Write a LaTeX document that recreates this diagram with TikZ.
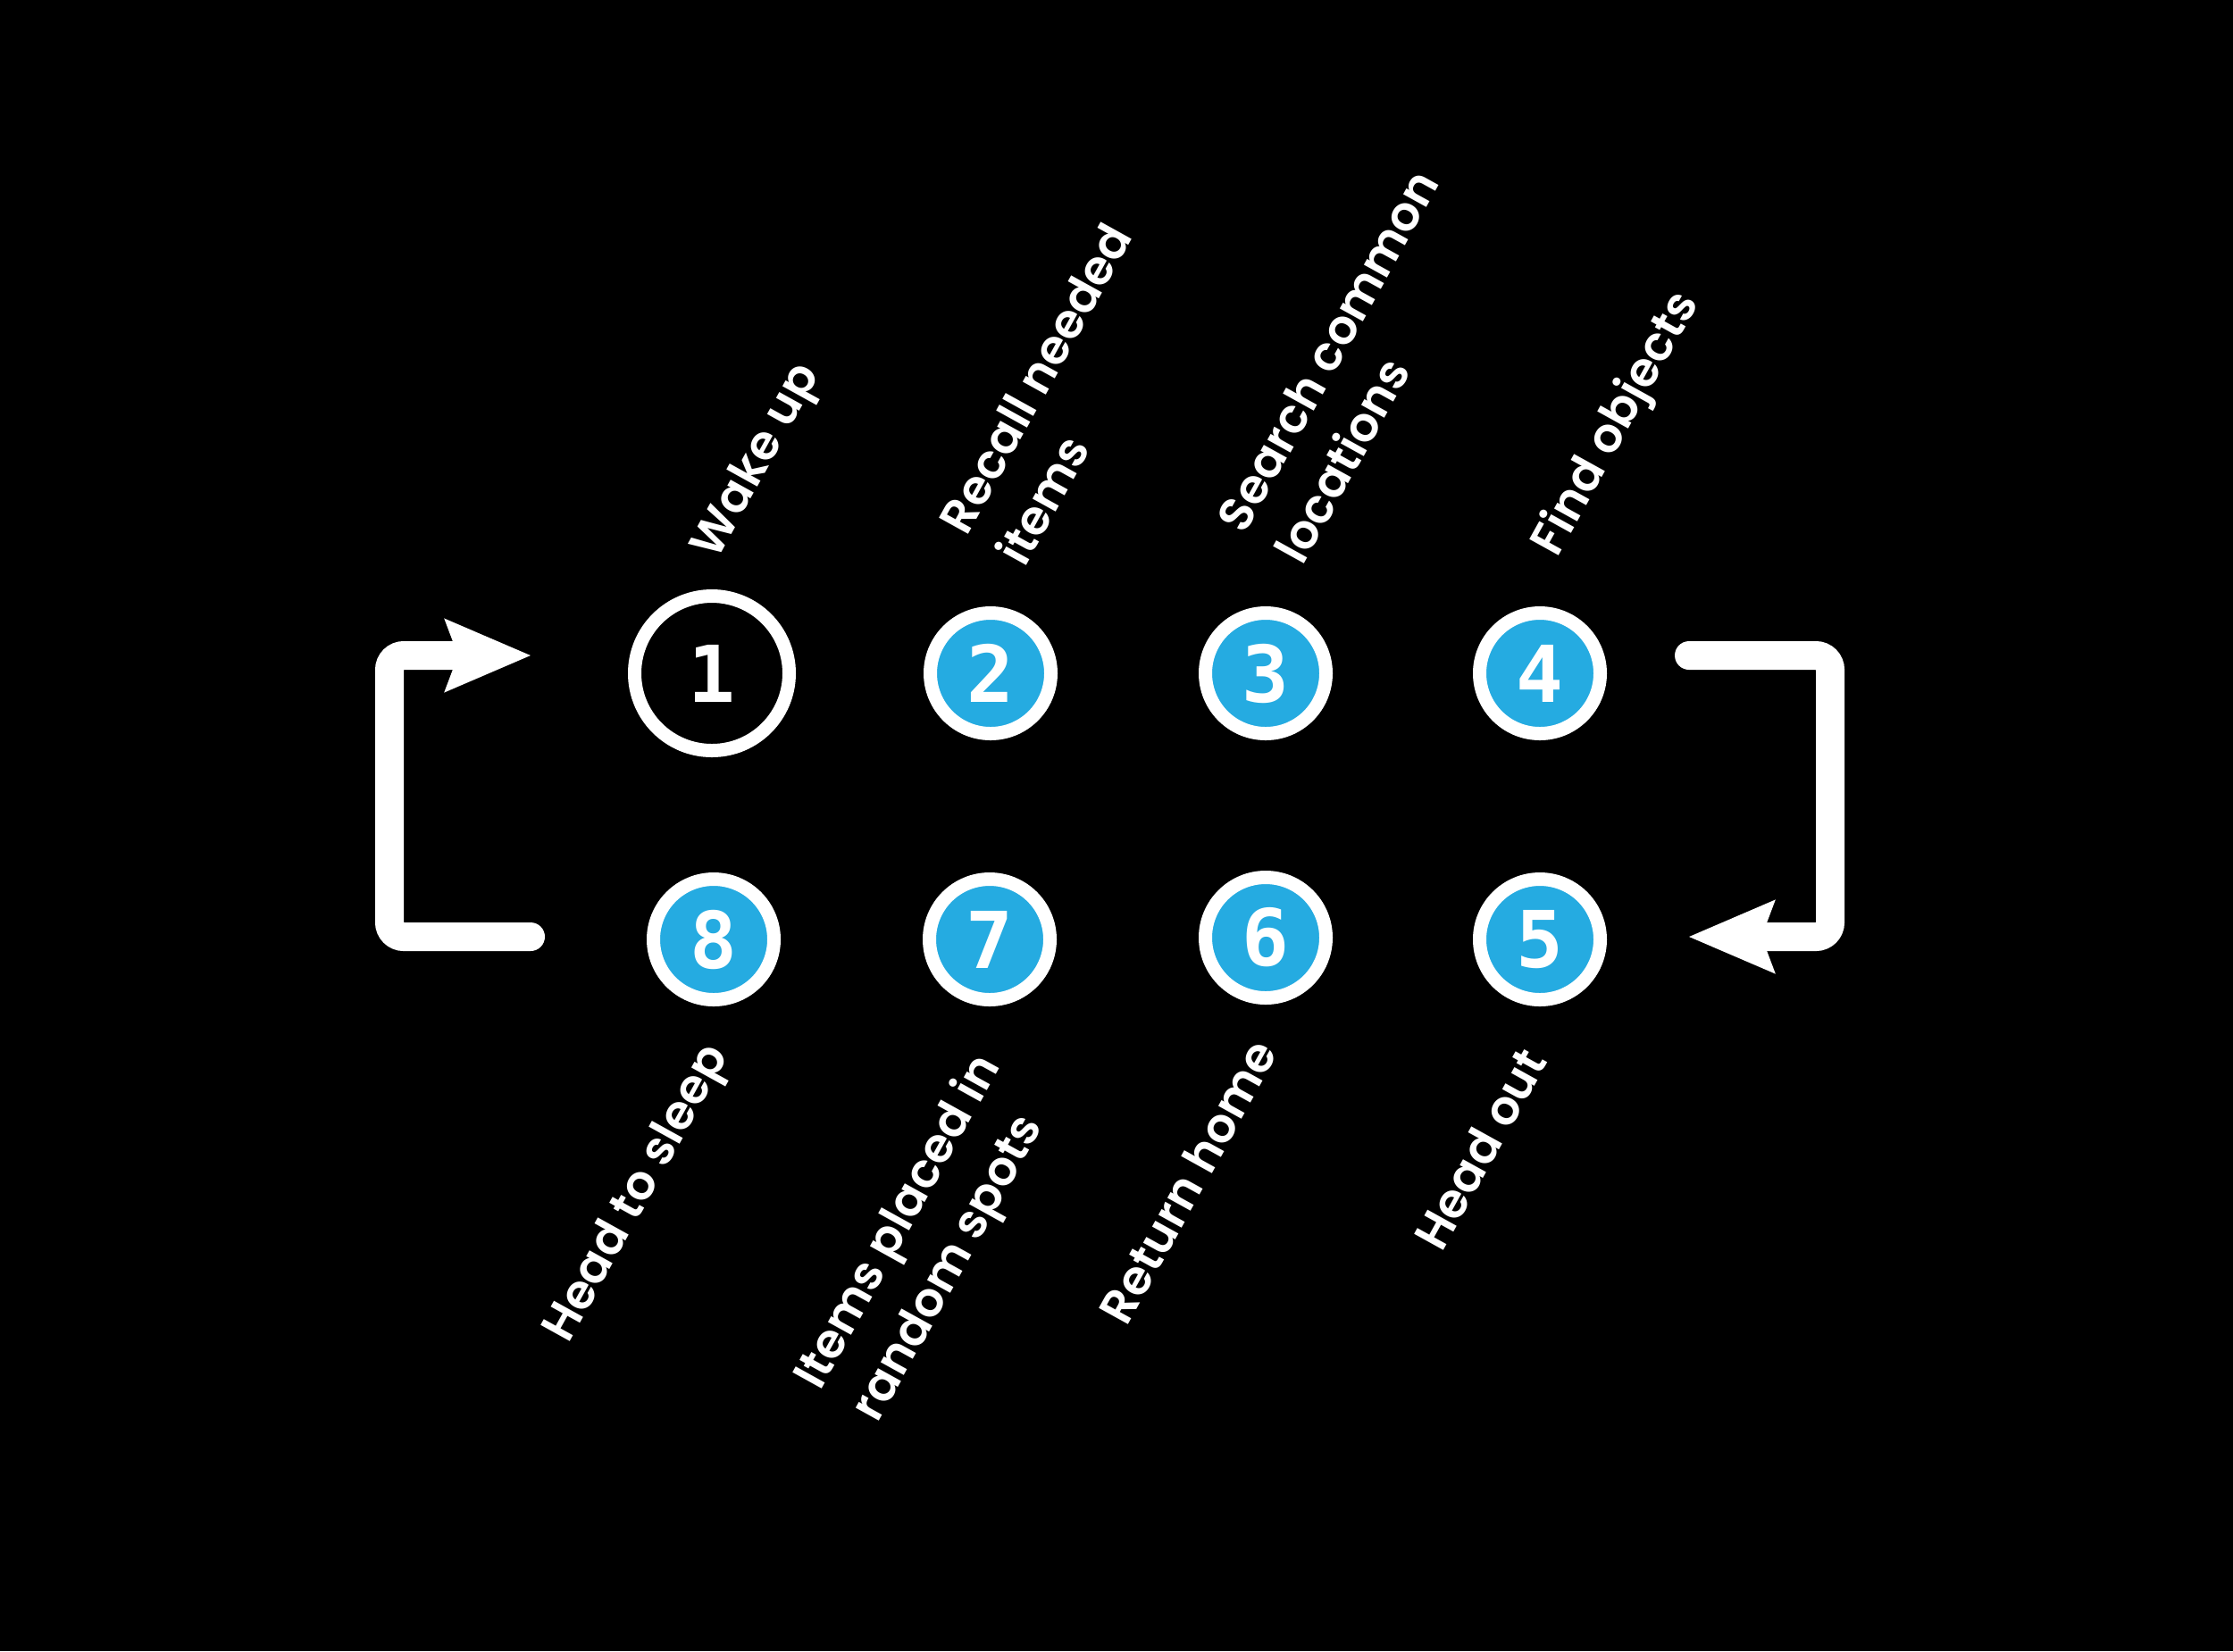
\documentclass[tikz,border=0pt]{standalone}
\usepackage{fontspec}
\setmainfont{Poppins SemiBold}
\newfontfamily\stepfont{DejaVu Sans Mono Bold}
\usepackage{tikz}
\usetikzlibrary{arrows.meta}
\usepackage{xcolor}
\definecolor{CycleBlue}{HTML}{25ABE1}

\begin{document}
\begin{tikzpicture}[
  stepdot/.style={circle, draw=white, line width=1.5mm, fill=CycleBlue, text=white,
    minimum size=1.35cm, inner sep=0pt, font=\stepfont\fontsize{25}{30}\selectfont},
  firstdot/.style={stepdot, fill=black, minimum size=1.73cm},
  lbl/.style={text=white, rotate=61, align=left, inner sep=0pt,
    font=\fontsize{15.2}{21}\selectfont},
  loopline/.style={draw=white, line width=3.2mm, line cap=round, rounded corners=1.6mm,
    -{Stealth[length=9.5mm, width=7.8mm, inset=1.3mm]}}
]
  \fill[black] (0,0) rectangle (25,-18.49);

  % steps
  \node[firstdot] (s1) at (7.97,-7.54) {1};
  \node[stepdot]  (s2) at (11.09,-7.54) {2};
  \node[stepdot]  (s3) at (14.17,-7.54) {3};
  \node[stepdot]  (s4) at (17.24,-7.54) {4};
  \node[stepdot]  (s5) at (17.24,-10.52) {5};
  \node[stepdot]  (s6) at (14.17,-10.50) {6};
  \node[stepdot]  (s7) at (11.08,-10.52) {7};
  \node[stepdot]  (s8) at (7.99,-10.52) {8};

  % labels
  \node[lbl, anchor=south west] (l1) at (8.15,-6.36) {Wake up};
  \node[lbl, anchor=south west] (l2) at (11.48,-6.38) {Recall needed\\items};
  \node[lbl, anchor=south west] (l3) at (14.59,-6.36) {Search common\\locations};
  \node[lbl, anchor=south west] (l4) at (17.56,-6.33) {Find objects};
  \node[lbl, anchor=north east] (l8) at (7.81,-11.62) {Head to sleep};
  \node[lbl, anchor=north east] (l7) at (10.84,-11.72) {Items placed in\\random spots};
  \node[lbl, anchor=north east] (l6) at (13.97,-11.59) {Return home};
  \node[lbl, anchor=north east] (l5) at (16.99,-11.68) {Head out};

  % loop arrows
  \coordinate (tailL) at (5.94,-10.49);
  \coordinate (tipL)  at (5.95,-7.34);
  \draw[loopline] (tailL) -- ++(-1.58,0) |- (tipL);
  \coordinate (tailR) at (18.91,-7.34);
  \coordinate (tipR)  at (18.90,-10.49);
  \draw[loopline] (tailR) -- ++(1.58,0) |- (tipR);
\end{tikzpicture}
\end{document}
